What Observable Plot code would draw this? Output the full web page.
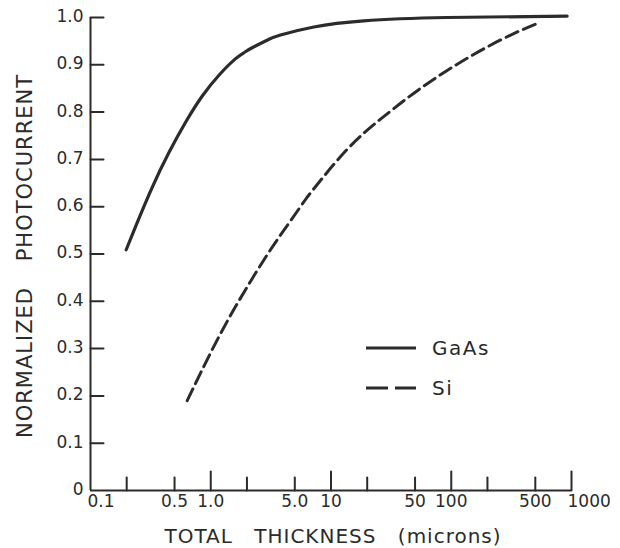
<!DOCTYPE html>
<html><head><meta charset="utf-8">
<script src="https://cdn.jsdelivr.net/npm/d3@7"></script>
<script src="https://cdn.jsdelivr.net/npm/@observablehq/plot@0.6"></script>
<style>
body{margin:0;background:#fff;}
#chart{position:relative;width:620px;height:548px;}
</style>
</head><body><div id="chart"></div>
<script>
// ---- data ----
const gaasX = [0.198, 0.237, 0.326, 0.448, 0.616, 0.85, 1.17, 1.61, 1.9, 2.21, 3.0, 3.8, 7.2, 18.7, 92, 920];
const gaasY = [0.509, 0.558, 0.641, 0.714, 0.778, 0.834, 0.878, 0.913, 0.926, 0.936, 0.953, 0.963, 0.980, 0.993, 1.0, 1.003];
const siX = [0.637, 0.822, 1.13, 1.56, 2.14, 2.94, 4.05, 5.94, 7.2, 13.6, 25.8, 48.9, 92.5, 175, 331, 552];
const siY = [0.190, 0.248, 0.318, 0.383, 0.442, 0.498, 0.550, 0.610, 0.638, 0.721, 0.785, 0.840, 0.888, 0.930, 0.966, 0.990];
const seriesNames = ["GaAs", "Si"];
const yTickValues = [0, 0.1, 0.2, 0.3, 0.4, 0.5, 0.6, 0.7, 0.8, 0.9, 1.0];
const yTickLabels = ["0", "0.1", "0.2", "0.3", "0.4", "0.5", "0.6", "0.7", "0.8", "0.9", "1.0"];
const xMajorTicks = [1, 10, 100, 1000];
const xMinorTicks = [0.2, 0.5, 2, 5, 20, 50, 200, 500];
const xLabelValues = [0.1, 0.5, 1, 5, 10, 50, 100, 500, 1000];
const xLabelTexts = ["0.1", "0.5", "1.0", "5.0", "10", "50", "100", "500", "1000"];
const xTitle = "TOTAL THICKNESS (microns)";
const yTitle = "NORMALIZED PHOTOCURRENT";

const gaas = gaasX.map((x, i) => ({x, y: gaasY[i], s: seriesNames[0]}));
const si = siX.map((x, i) => ({x, y: siY[i], s: seriesNames[1]}));
const xLabels = xLabelValues.map((v, i) => ({v, t: xLabelTexts[i]}));
const innerLabels = xLabels.slice(1, -1);
const firstLabel = xLabels.slice(0, 1);
const lastLabel = xLabels.slice(-1);

const ink = "#2b2b2b";
const font = "'DejaVu Sans', sans-serif";
const tickShape = {draw(context, l) { context.moveTo(0, 0); context.lineTo(0, -l); }};

const plot = Plot.plot({
  width: 620, height: 548,
  marginLeft: 90, marginRight: 49, marginTop: 17, marginBottom: 58,
  style: {fontFamily: font, background: "#fff", color: ink, overflow: "visible"},
  x: {type: "log", domain: [0.1, 1000], axis: null},
  y: {domain: [0, 1], axis: null},
  marks: [
    Plot.ruleX([0.1], {y1: 0, y2: 1, stroke: ink, strokeWidth: 2}),
    Plot.ruleY([0], {x1: 0.1, x2: 1000, stroke: ink, strokeWidth: 2}),
    Plot.vector(yTickValues.slice(1), {y: d => d, frameAnchor: "left", length: 13, rotate: 90, anchor: "start", shape: tickShape, stroke: ink, strokeWidth: 2}),
    Plot.vector(xMinorTicks, {x: d => d, frameAnchor: "bottom", length: 13, anchor: "start", shape: tickShape, stroke: ink, strokeWidth: 2}),
    Plot.vector(xMajorTicks, {x: d => d, frameAnchor: "bottom", length: 19, anchor: "start", shape: tickShape, stroke: ink, strokeWidth: 2}),
    Plot.text(yTickValues, {y: d => d, text: (d, i) => yTickLabels[i], frameAnchor: "left", textAnchor: "end", dx: -7, dy: -1, fontSize: 17, fill: ink}),
    Plot.text(innerLabels, {x: "v", text: "t", frameAnchor: "bottom", textAnchor: "middle", lineAnchor: "top", dy: 4, fontSize: 17, fill: ink}),
    Plot.text(firstLabel, {x: "v", text: "t", frameAnchor: "bottom", textAnchor: "start", lineAnchor: "top", dx: -3, dy: 4, fontSize: 17, fill: ink}),
    Plot.text(lastLabel, {x: "v", text: "t", frameAnchor: "bottom", textAnchor: "start", lineAnchor: "top", dx: -4, dy: 4, fontSize: 17, fill: ink}),
    Plot.text([xTitle], {text: d => d, frameAnchor: "bottom", textAnchor: "middle", lineAnchor: "bottom", dy: 52, dx: 2, fontSize: 20, fill: ink}),
    Plot.text([yTitle], {text: d => d, frameAnchor: "left", textAnchor: "middle", rotate: -90, dx: -65, dy: 2, fontSize: 21, fill: ink}),
    Plot.line(gaas, {x: "x", y: "y", curve: "natural", stroke: ink, strokeWidth: 3.2, strokeLinecap: "round"}),
    Plot.line(si, {x: "x", y: "y", curve: "natural", stroke: ink, strokeWidth: 3, strokeDasharray: "13,6"})
  ]
});

const svg = d3.select(plot);
svg.selectAll("text").filter(function() { return this.textContent === xTitle; })
  .style("letter-spacing", "1px").style("word-spacing", "14px");
svg.selectAll("text").filter(function() { return this.textContent === yTitle; })
  .style("letter-spacing", "1px").style("word-spacing", "18px");

// legend
const legend = svg.append("g").attr("font-family", font).attr("fill", ink).attr("text-anchor", "start");
const legendDash = [null, "22,7"];
seriesNames.forEach((name, i) => {
  const y = 348 + i * 40;
  legend.append("line").attr("x1", 366).attr("x2", 416).attr("y1", y).attr("y2", y)
    .attr("stroke", ink).attr("stroke-width", 3.2).attr("stroke-dasharray", legendDash[i]);
  legend.append("text").attr("x", 432).attr("y", y).attr("dy", "0.36em").attr("font-size", 20)
    .attr("text-anchor", "start").style("letter-spacing", "1.5px").text(name);
});

document.getElementById("chart").appendChild(plot);
</script>
</body></html>
